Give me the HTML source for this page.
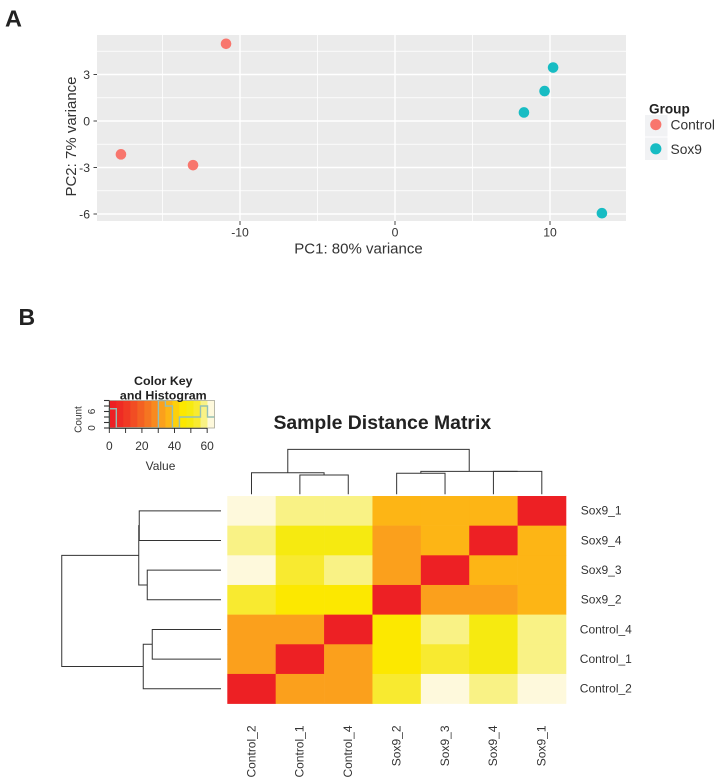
<!DOCTYPE html>
<html lang="en">
<head>
<meta charset="utf-8">
<title>PCA and Sample Distance Matrix</title>
<style>
html,body{margin:0;padding:0;background:#fff;}
svg{display:block;font-family:"Liberation Sans",Arial,sans-serif;}
</style>
</head>
<body>
<svg id="figure" width="725" height="784" viewBox="0 0 725 784" xmlns="http://www.w3.org/2000/svg">
  <text x="5" y="26.7" font-size="23.5" font-weight="bold" fill="#222">A</text>
  <text x="18.5" y="325" font-size="23" font-weight="bold" fill="#222">B</text>

  <rect x="97" y="35" width="529" height="186" fill="#ebebeb"/>
  <g id="pcaGrid"></g>
  <g id="pcaAxes"></g>
  <g id="pcaPoints"></g>
  <text x="358.5" y="253.3" font-size="15" text-anchor="middle" fill="#333">PC1: 80% variance</text>
  <text transform="translate(76,136.5) rotate(-90)" font-size="15" text-anchor="middle" fill="#333">PC2: 7% variance</text>

  <g>
    <text x="649" y="113.3" font-size="13.6" font-weight="bold" fill="#222">Group</text>
    <rect x="645" y="115" width="22.5" height="21.5" fill="#f1f2f4"/>
    <rect x="645" y="137.5" width="22.5" height="22.5" fill="#f1f2f4"/>
    <circle cx="655.8" cy="124.6" r="5.6" fill="#f8766d"/>
    <circle cx="655.8" cy="148.8" r="5.6" fill="#17bcc3"/>
    <text x="670.5" y="129.4" font-size="13.8" fill="#333">Control</text>
    <text x="670.5" y="154" font-size="13.8" fill="#333">Sox9</text>
  </g>

  <g id="colorKey"></g>
  <text x="163.3" y="385" font-size="12.4" font-weight="bold" text-anchor="middle" fill="#222">Color Key</text>
  <text x="163.3" y="399.5" font-size="12.4" font-weight="bold" text-anchor="middle" fill="#222">and Histogram</text>
  <text x="160.5" y="470" font-size="12" text-anchor="middle" fill="#333">Value</text>
  <text transform="translate(81.5,419.5) rotate(-90)" font-size="10" text-anchor="middle" fill="#333">Count</text>

  <text x="382.3" y="429" font-size="19.4" font-weight="bold" text-anchor="middle" fill="#222">Sample Distance Matrix</text>
  <g id="heatmap"></g>
  <g id="colDendro"></g>
  <g id="rowDendro"></g>
  <g id="heatLabels"></g>
</svg>

<script>
// ---------- PCA data ----------
const controlPC1 = [-10.9, -17.68, -13.03];
const controlPC2 = [4.98, -2.15, -2.85];
const sox9PC1 = [10.2, 9.65, 8.32, 13.35];
const sox9PC2 = [3.45, 1.93, 0.55, -5.95];
const pcaXTicks = [-10, 0, 10];
const pcaXMinor = [-15, -5, 5];
const pcaYTicks = [3, 0, -3, -6];
const pcaYMinor = [4.5, 1.5, -1.5, -4.5];

// ---------- Heatmap data ----------
const rowLabels = ["Sox9_1", "Sox9_4", "Sox9_3", "Sox9_2", "Control_4", "Control_1", "Control_2"];
const colLabels = ["Control_2", "Control_1", "Control_4", "Sox9_2", "Sox9_3", "Sox9_4", "Sox9_1"];
const distanceRow1 = [62, 58, 58, 36.5, 36.5, 36.5, 0];
const distanceRow2 = [58, 49.5, 49.5, 32, 36.5, 0, 36.5];
const distanceRow3 = [62, 53.5, 58, 32, 0, 36.5, 36.5];
const distanceRow4 = [53.5, 45, 45, 0, 32, 32, 36.5];
const distanceRow5 = [32, 32, 0, 45, 58, 49.5, 58];
const distanceRow6 = [32, 0, 32, 45, 53.5, 49.5, 58];
const distanceRow7 = [0, 32, 32, 53.5, 62, 58, 62];
const distanceMatrix = [distanceRow1, distanceRow2, distanceRow3, distanceRow4, distanceRow5, distanceRow6, distanceRow7];

// hclust-style merges: negative = leaf (display order), positive = earlier merge; third value = height
const rowMerges = [[-1, -2, 32.7], [-3, -4, 29.5], [1, 2, 32.9], [-5, -6, 27.5], [4, -7, 31.1], [3, 5, 63.7]];
const colMerges = [[-2, -3, 27.3], [-1, 1, 30.5], [-4, -5, 29.7], [-6, -7, 32.5], [3, 4, 32.5], [2, 5, 63.6]];

// ---------- Color key ----------
const keyBinWidth = 4.3;
const keyBandColors = ["#ed2024", "#ee2b24", "#f03a24", "#f14d23", "#f36122", "#f57521", "#f88a1f", "#fba01c", "#fdb515", "#fdd00a", "#fce800", "#f6ea10", "#f8ea30", "#f9f285", "#fef9dc"];
const keyXTicks = [0, 10, 20, 30, 40, 50, 60];
const keyXLabels = [0, 20, 40, 60];
const keyYTicks = [0, 2, 4, 6, 8, 10];
const keyYLabels = [0, 6];

// ---------- helpers ----------
const NS = "http://www.w3.org/2000/svg";
function mk(parent, tag, attrs, txt) {
  const n = document.createElementNS(NS, tag);
  for (const k in attrs) n.setAttribute(k, attrs[k]);
  if (txt !== undefined) n.textContent = txt;
  parent.appendChild(n);
  return n;
}
const $ = id => document.getElementById(id);

// ---------- PCA scales ----------
const pcaX = v => 395 + v * 15.5;
const pcaY = v => 121 - v * 15.5;

pcaXMinor.forEach(v => {
  const el = mk($("pcaGrid"), "line", {x1: pcaX(v), x2: pcaX(v), y1: 35, y2: 221, stroke: "#fff", "stroke-width": 0.8});
  
  
});
pcaYMinor.forEach(v => {
  const el = mk($("pcaGrid"), "line", {x1: 97, x2: 626, y1: pcaY(v), y2: pcaY(v), stroke: "#fff", "stroke-width": 0.8});
  
  
});
pcaXTicks.forEach(v => {
  const g = mk($("pcaGrid"), "line", {x1: pcaX(v), x2: pcaX(v), y1: 35, y2: 221, stroke: "#fff", "stroke-width": 1.4});
  
  
  const t = mk($("pcaAxes"), "line", {x1: pcaX(v), x2: pcaX(v), y1: 221, y2: 225, stroke: "#444", "stroke-width": 1});
  
  
  const l = mk($("pcaAxes"), "text", {x: pcaX(v), y: 236.7, "font-size": 12.2, "text-anchor": "middle", fill: "#333"}, String(v));
  
  
});
pcaYTicks.forEach(v => {
  const g = mk($("pcaGrid"), "line", {x1: 97, x2: 626, y1: pcaY(v), y2: pcaY(v), stroke: "#fff", "stroke-width": 1.4});
  
  
  const t = mk($("pcaAxes"), "line", {x1: 93.5, x2: 97, y1: pcaY(v), y2: pcaY(v), stroke: "#444", "stroke-width": 1});
  
  
  const l = mk($("pcaAxes"), "text", {x: 90, y: pcaY(v) + 4.3, "font-size": 12.2, "text-anchor": "end", fill: "#333"}, String(v));
  
  
});
controlPC1.forEach((v, i) => {
  const el = mk($("pcaPoints"), "circle", {cx: pcaX(v), cy: pcaY(controlPC2[i]), r: 5.3, fill: "#f8766d"});
  
  
});
sox9PC1.forEach((v, i) => {
  const el = mk($("pcaPoints"), "circle", {cx: pcaX(v), cy: pcaY(sox9PC2[i]), r: 5.3, fill: "#17bcc3"});
  
  
});

// ---------- Color key ----------
const keyX = v => 109.3 + v * 1.631;
const keyY = c => 428 - c * 2.75;
function binOf(v) { return Math.max(0, Math.min(keyBandColors.length - 1, Math.floor(v / keyBinWidth))); }

keyBandColors.forEach((c, i) => {
  const el = mk($("colorKey"), "rect", {x: keyX(i * keyBinWidth), y: 400.5, width: keyBinWidth * 1.631 + 0.3, height: 27.5, fill: c});
  
  
});
const histCounts = keyBandColors.map(() => 0);
distanceMatrix.forEach(r => r.forEach(v => { histCounts[binOf(v)] += 1; }));
let histPath = "M" + keyX(0) + " " + keyY(0);
histCounts.forEach((c, i) => {
  const y = Math.max(400.5, keyY(c));
  histPath += " L" + keyX(i * keyBinWidth) + " " + y + " L" + keyX((i + 1) * keyBinWidth) + " " + y;
});
const histLine = mk($("colorKey"), "path", {d: histPath, fill: "none", stroke: "#94bfb4", "stroke-width": 1.4});


const keyFrame = mk($("colorKey"), "rect", {x: keyX(0), y: 400.5, width: 64.5 * 1.631, height: 27.5, fill: "none", stroke: "#a8a89a", "stroke-width": 0.8});


const keyAxisX = mk($("colorKey"), "line", {x1: keyX(0), x2: keyX(60), y1: 428.3, y2: 428.3, stroke: "#222", "stroke-width": 0.8});


const keyAxisY = mk($("colorKey"), "line", {x1: 109.3, x2: 109.3, y1: keyY(10), y2: keyY(0), stroke: "#222", "stroke-width": 0.8});


keyXTicks.forEach(v => {
  const el = mk($("colorKey"), "line", {x1: keyX(v), x2: keyX(v), y1: 428, y2: 433, stroke: "#222", "stroke-width": 0.9});
  
  
});
keyXLabels.forEach(v => {
  const el = mk($("colorKey"), "text", {x: keyX(v), y: 450, "font-size": 12, "text-anchor": "middle", fill: "#333"}, String(v));
  
  
});
keyYTicks.forEach(v => {
  const el = mk($("colorKey"), "line", {x1: 104, x2: 109.3, y1: keyY(v), y2: keyY(v), stroke: "#333", "stroke-width": 1.1});
  
  
});
keyYLabels.forEach(v => {
  const el = mk($("colorKey"), "text", {transform: "translate(95," + keyY(v) + ") rotate(-90)", "font-size": 10, "text-anchor": "middle", fill: "#333"}, String(v));
  
  
});

// ---------- Heatmap ----------
const cellW = (566 - 227.3) / colLabels.length;
const cellH = (703.6 - 496) / rowLabels.length;
const colX = i => 227.3 + i * cellW;
const rowY = i => 496 + i * cellH;

distanceMatrix.forEach((row, r) => {
  row.forEach((v, c) => {
    const el = mk($("heatmap"), "rect", {x: colX(c), y: rowY(r), width: cellW + 0.3, height: cellH + 0.3, fill: keyBandColors[binOf(v)]});
    
    
  });
});
rowLabels.forEach((t, i) => {
  const el = mk($("heatLabels"), "text", {x: i < 4 ? 580.8 : 579.8, y: rowY(i) + cellH / 2 + 3.9, "font-size": 12, fill: "#333"}, t);
  
  
});
colLabels.forEach((t, i) => {
  const el = mk($("heatLabels"), "text", {transform: "translate(" + (colX(i) + cellW / 2 + 3.8) + ",725.5) rotate(-90)", "font-size": 12, "text-anchor": "end", fill: "#333"}, t);
  
  
});

// ---------- Dendrograms ----------
function layoutMerges(merges, leafPos, heightPos) {
  const nodes = [];
  const resolve = id => id < 0 ? {p: leafPos(-id - 1), h: heightPos(0)} : nodes[id - 1];
  const paths = [];
  merges.forEach(m => {
    const a = resolve(m[0]), b = resolve(m[1]), h = heightPos(m[2]);
    paths.push([a, b, h]);
    nodes.push({p: (a.p + b.p) / 2, h: h});
  });
  return paths;
}
layoutMerges(colMerges, i => colX(i) + cellW / 2, h => 494.3 - h * 0.707).forEach(s => {
  const el = mk($("colDendro"), "path", {d: "M" + s[0].p + " " + s[0].h + " V" + s[2] + " H" + s[1].p + " V" + s[1].h, fill: "none", stroke: "#333", "stroke-width": 1});
  
  
});
layoutMerges(rowMerges, i => rowY(i) + cellH / 2, h => 221 - h * 2.5).forEach(s => {
  const el = mk($("rowDendro"), "path", {d: "M" + s[0].h + " " + s[0].p + " H" + s[2] + " V" + s[1].p + " H" + s[1].h, fill: "none", stroke: "#333", "stroke-width": 1});
  
  
});
</script>
</body>
</html>
